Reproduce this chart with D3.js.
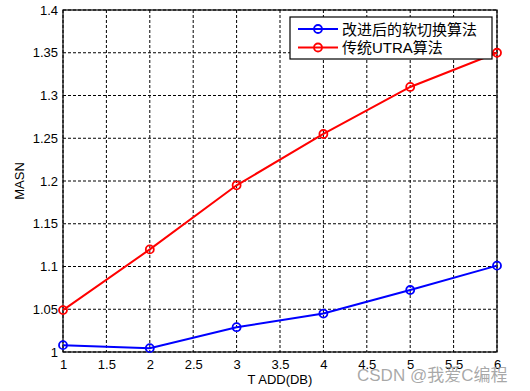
<!DOCTYPE html>
<html>
<head>
<meta charset="utf-8">
<script src="https://cdn.jsdelivr.net/npm/d3@7"></script>
<style>
  body { margin: 0; background: #fff; }
  text { font-family: "Liberation Sans", Arial, "Noto Sans CJK SC", sans-serif; }
</style>
</head>
<body>
<div id="chart"></div>
<script>
// data
const tAdd = [1, 2, 3, 4, 5, 6];
const softHandover = [1.008, 1.0045, 1.029, 1.045, 1.0725, 1.101];
const utraAlgo = [1.049, 1.120, 1.195, 1.255, 1.310, 1.350];
const xTicks = [1, 1.5, 2, 2.5, 3, 3.5, 4, 4.5, 5, 5.5, 6];
const yTicks = [1, 1.05, 1.1, 1.15, 1.2, 1.25, 1.3, 1.35, 1.4];
const seriesNames = ["改进后的软切换算法", "传统UTRA算法"];
const seriesColors = ["#0000ff", "#ff0000"];

const W = 530, H = 391;
const margin = { top: 10, right: 33, bottom: 39, left: 63 };
const width = W - margin.left - margin.right;
const height = H - margin.top - margin.bottom;

const svg = d3.select("#chart")
  .append("svg")
  .attr("width", W)
  .attr("height", H);

svg.append("rect").attr("width", W).attr("height", H).attr("fill", "#fff");

const g = svg.append("g")
  .attr("transform", `translate(${margin.left},${margin.top})`);

const xScale = d3.scaleLinear().domain([1, 6]).range([0, width]);
const yScale = d3.scaleLinear().domain([1, 1.4]).range([height, 0]);

// grid lines
g.selectAll("line.vgrid")
  .data(xTicks)
  .enter()
  .append("line")
  .attr("class", "vgrid")
  .attr("x1", d => xScale(d)).attr("x2", d => xScale(d))
  .attr("y1", 0).attr("y2", height)
  .attr("stroke", "#000").attr("stroke-width", 1)
  .attr("stroke-dasharray", "3,2");

g.selectAll("line.hgrid")
  .data(yTicks)
  .enter()
  .append("line")
  .attr("class", "hgrid")
  .attr("x1", 0).attr("x2", width)
  .attr("y1", d => yScale(d)).attr("y2", d => yScale(d))
  .attr("stroke", "#000").attr("stroke-width", 1)
  .attr("stroke-dasharray", "3,2");

// axes
const xAxis = d3.axisBottom(xScale).tickValues(xTicks).tickSize(0).tickPadding(8)
  .tickFormat(d3.format("~g"));
g.append("g")
  .attr("transform", `translate(0,${height})`)
  .call(xAxis)
  .call(a => a.select(".domain").remove())
  .selectAll("text").attr("font-size", 13).attr("fill", "#000")
  .attr("font-family", "Liberation Sans, Arial, sans-serif");

const yAxis = d3.axisLeft(yScale).tickValues(yTicks).tickSize(0).tickPadding(5)
  .tickFormat(d3.format("~g"));
g.append("g")
  .call(yAxis)
  .call(a => a.select(".domain").remove())
  .selectAll("text").attr("font-size", 13).attr("fill", "#000")
  .attr("font-family", "Liberation Sans, Arial, sans-serif");

// box
g.append("rect")
  .attr("x", 0).attr("y", 0)
  .attr("width", width).attr("height", height)
  .attr("fill", "none").attr("stroke", "#000").attr("stroke-width", 1.2);

// lines and markers
const line = d3.line()
  .x((d, i) => xScale(tAdd[i]))
  .y(d => yScale(d));

[softHandover, utraAlgo].forEach((vals, k) => {
  g.append("path")
    .datum(vals)
    .attr("d", line)
    .attr("fill", "none")
    .attr("stroke", seriesColors[k])
    .attr("stroke-width", 2);

  g.selectAll("circle.s" + k)
    .data(vals)
    .enter()
    .append("circle")
    .attr("class", "s" + k)
    .attr("cx", (d, i) => xScale(tAdd[i]))
    .attr("cy", d => yScale(d))
    .attr("r", 4)
    .attr("fill", "none")
    .attr("stroke", seriesColors[k])
    .attr("stroke-width", 1.8);
});

// axis labels
svg.append("text")
  .attr("x", margin.left + width / 2)
  .attr("y", 384)
  .attr("text-anchor", "middle")
  .attr("font-size", 13)
  .text("T ADD(DB)");

svg.append("text")
  .attr("transform", "rotate(-90)")
  .attr("x", -(margin.top + height / 2))
  .attr("y", 24)
  .attr("text-anchor", "middle")
  .attr("font-size", 13)
  .text("MASN");

// legend
const legend = svg.append("g");
legend.append("rect")
  .attr("x", 290).attr("y", 17)
  .attr("width", 202).attr("height", 42)
  .attr("fill", "#fff").attr("stroke", "#000").attr("stroke-width", 1.2);

seriesNames.forEach((name, k) => {
  const ly = 29 + k * 18.5;
  legend.append("line")
    .attr("x1", 298).attr("x2", 338)
    .attr("y1", ly).attr("y2", ly)
    .attr("stroke", seriesColors[k]).attr("stroke-width", 2);
  legend.append("circle")
    .attr("cx", 318).attr("cy", ly).attr("r", 4)
    .attr("fill", "none").attr("stroke", seriesColors[k]).attr("stroke-width", 1.8);
  legend.append("text")
    .attr("x", 342).attr("y", ly + 5.5)
    .attr("font-size", 15)
    .attr("font-family", "Liberation Sans, Noto Sans CJK SC, sans-serif")
    .text(name);
});

// watermark
svg.append("text")
  .attr("x", 357).attr("y", 381)
  .attr("font-size", 17)
  .attr("fill", "#999")
  .attr("fill-opacity", 0.85)
  .attr("font-family", "Liberation Sans, Noto Sans CJK SC, sans-serif")
  .text("CSDN @我爱C编程");
</script>
</body>
</html>
